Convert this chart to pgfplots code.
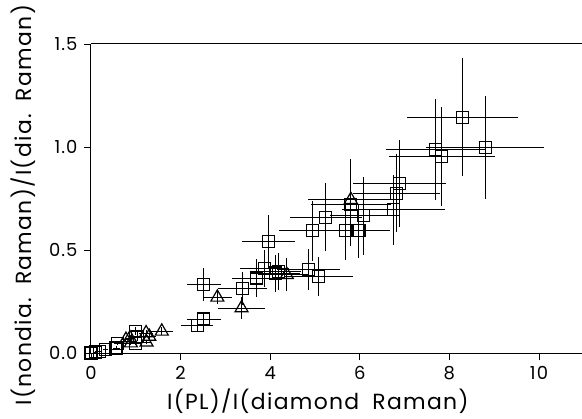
\documentclass[border=0pt]{standalone}
\usepackage{fontspec}
\setmainfont{Poppins}
\newfontfamily\labfont{Poppins}[LetterSpace=6]
\usepackage{pgfplots}
\pgfplotsset{compat=1.18}
\usepackage{pgfplotstable}
\pgfplotstableread{
x y ex ey
8.29 1.145 1.24 0.285
8.80 0.997 1.32 0.25
7.69 0.989 1.10 0.245
7.83 0.954 1.18 0.24
6.88 0.824 1.04 0.21
6.82 0.776 0.97 0.19
6.75 0.695 1.15 0.17
5.80 0.719 0.90 0.20
6.09 0.666 0.75 0.19
5.24 0.658 0.80 0.165
4.94 0.593 0.75 0.145
5.68 0.593 0.70 0.14
5.98 0.593 0.70 0.13
3.96 0.542 0.60 0.13
3.88 0.412 0.55 0.09
3.70 0.364 0.55 0.09
4.11 0.388 0.55 0.09
4.18 0.396 0.50 0.09
4.86 0.407 0.70 0.10
5.08 0.372 0.77 0.095
3.38 0.315 0.55 0.08
2.52 0.331 0.38 0.08
2.52 0.165 0.38 0.03
2.37 0.133 0.35 0.03
1.00 0.105 0.12 0.02
1.04 0.080 0.12 0.02
1.00 0.048 0.12 0.01
0.60 0.048 0.08 0.01
0.56 0.024 0.08 0.01
0.33 0.016 0.06 0.005
0.19 0.008 0.05 0.005
0.10 0.005 0.03 0.003
0.00 0.000 0.02 0.002
}\sq
\pgfplotstableread{
x y ex ey
5.80 0.744 0.95 0.20
4.37 0.380 0.50 0.08
3.36 0.218 0.52 0.055
2.82 0.270 0.32 0.03
1.58 0.105 0.24 0.02
1.30 0.080 0.15 0.015
1.23 0.097 0.15 0.015
1.24 0.052 0.10 0.01
0.87 0.073 0.10 0.01
0.89 0.048 0.10 0.01
0.78 0.065 0.10 0.01
}\tri
\begin{document}
\begin{tikzpicture}
\begin{axis}[
  scale only axis, width=491bp, height=309bp,
  xmin=0, xmax=10.96, ymin=0, ymax=1.5,
  axis x line=box, axis y line=left,
  xtick pos=bottom, ytick pos=left,
  x axis line style={-}, y axis line style={-},
  axis line style={line width=1bp},
  tick align=outside, major tick length=7bp,
  tick style={line width=0.9bp, black},
  xtick={0,2,4,6,8,10}, ytick={0,0.5,1,1.5},
  /pgf/number format/assume math mode=true,
  every tick label/.append style={font=\labfont\fontsize{18}{20}\selectfont},
  yticklabel={\pgfmathprintnumber[fixed,fixed zerofill,precision=1]{\tick}},
  yticklabel style={xshift=-3bp},
  xticklabel style={yshift=-3bp},
  xlabel={I(PL)/I(diamond\hspace{0.6em}Raman)},
  ylabel={I(nondia.\hspace{0.6em}Raman)/I(dia.\hspace{0.6em}Raman)},
  every axis label/.append style={font=\labfont\fontsize{22}{24}\selectfont},
  xlabel style={at={(axis description cs:0.462,0)}, anchor=base, yshift=-56bp},
  ylabel style={at={(axis description cs:-0.1222,0.478)}, anchor=base},
  clip=false,
  error bars/error bar style={line width=0.9bp, black},
]
\addplot[only marks, mark=square, mark size=6bp, black, mark options={line width=1.2bp},
  error bars/.cd, x dir=both, x explicit, y dir=both, y explicit, error mark=none]
  table[x=x, y=y, x error=ex, y error=ey]{\sq};
\addplot[only marks, mark=triangle, mark size=7.5bp, black, mark options={line width=1.2bp},
  error bars/.cd, x dir=both, x explicit, y dir=both, y explicit, error mark=none]
  table[x=x, y=y, x error=ex, y error=ey]{\tri};
\coordinate (bl) at (rel axis cs:0,0);
\coordinate (tr) at (rel axis cs:1,1);
\end{axis}
\pgfresetboundingbox
\path[use as bounding box] ([shift={(-91bp,-66bp)}]bl) rectangle ([shift={(0bp,44bp)}]tr);
\end{tikzpicture}
\end{document}
